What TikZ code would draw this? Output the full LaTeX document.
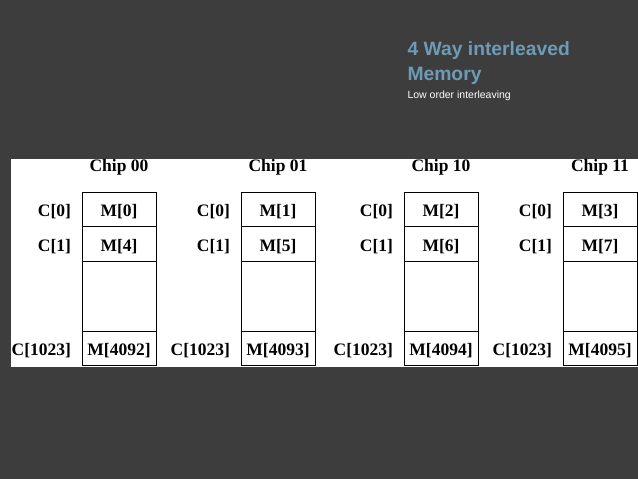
\documentclass[tikz,border=0pt]{standalone}
\usepackage{fontspec}
\setmainfont{Liberation Serif}
\newfontfamily\headfont{Liberation Sans}
\usetikzlibrary{positioning}
\definecolor{slidebg}{HTML}{3D3D3D}
\definecolor{headblue}{HTML}{6C9CB6}
\begin{document}
\begin{tikzpicture}[x=1pt,y=-1pt,line width=1pt]
\tikzstyle{cell}=[draw, fill=white, inner sep=0pt, minimum width=74pt, minimum height=34.5pt, text height=15pt, text depth=0pt, font=\fontsize{17.5}{20}\bfseries]
\tikzstyle{blank}=[draw, fill=white, inner sep=0pt, minimum width=74pt, minimum height=70pt]
\tikzstyle{addr}=[anchor=east, inner sep=0pt, text height=15pt, text depth=0pt, font=\fontsize{17.5}{20}\bfseries]
\tikzstyle{chip}=[anchor=base, inner sep=0pt, font=\fontsize{17.5}{20}\bfseries]
\tikzstyle{head}=[anchor=base west, inner sep=0pt, text=headblue, font=\headfont\fontsize{19.3}{23}\bfseries]

% slide and white panel
\fill[slidebg] (0,0) rectangle (638,479);
\fill[white] (11,159) rectangle (638,366.5);
\useasboundingbox (0,0) rectangle (638,479);

% heading
\node[head] (title) at (407,56) {4 Way interleaved};
\node[head] (title2) at (407,80) {Memory};
\node[anchor=base west, inner sep=0pt, text=white, font=\headfont\fontsize{10.5}{12}\selectfont] (sub) at (407,98) {Low order interleaving};

% chip 00
\node[cell] (a0) at (119,209.25) {M[0]};
\node[cell] (a1) at (119,243.75) {M[4]};
\node[blank] (a2) at (119,296) {};
\node[cell] (a3) at (119,348.25) {M[4092]};

% chip 01
\node[cell] (b0) at (278,209.25) {M[1]};
\node[cell] (b1) at (278,243.75) {M[5]};
\node[blank] (b2) at (278,296) {};
\node[cell] (b3) at (278,348.25) {M[4093]};

% chip 10
\node[cell] (c0) at (441,209.25) {M[2]};
\node[cell] (c1) at (441,243.75) {M[6]};
\node[blank] (c2) at (441,296) {};
\node[cell] (c3) at (441,348.25) {M[4094]};

% chip 11
\node[cell] (d0) at (600,209.25) {M[3]};
\node[cell] (d1) at (600,243.75) {M[7]};
\node[blank] (d2) at (600,296) {};
\node[cell] (d3) at (600,348.25) {M[4095]};

% chip names
\node[chip, above=20pt of a0.north, anchor=base] (na) {Chip 00};
\node[chip, above=20pt of b0.north, anchor=base] (nb) {Chip 01};
\node[chip, above=20pt of c0.north, anchor=base] (nc) {Chip 10};
\node[chip, above=20pt of d0.north, anchor=base] (nd) {Chip 11};

% addresses
\node[addr, left=10pt of a0.west, anchor=east] (ca0) {C[0]};
\node[addr, left=10pt of a1.west, anchor=east] (ca1) {C[1]};
\node[addr, left=10pt of a3.west, anchor=east] (ca3) {C[1023]};
\node[addr, left=10pt of b0.west, anchor=east] (cb0) {C[0]};
\node[addr, left=10pt of b1.west, anchor=east] (cb1) {C[1]};
\node[addr, left=10pt of b3.west, anchor=east] (cb3) {C[1023]};
\node[addr, left=10pt of c0.west, anchor=east] (cc0) {C[0]};
\node[addr, left=10pt of c1.west, anchor=east] (cc1) {C[1]};
\node[addr, left=10pt of c3.west, anchor=east] (cc3) {C[1023]};
\node[addr, left=10pt of d0.west, anchor=east] (cd0) {C[0]};
\node[addr, left=10pt of d1.west, anchor=east] (cd1) {C[1]};
\node[addr, left=10pt of d3.west, anchor=east] (cd3) {C[1023]};
\end{tikzpicture}
\end{document}
